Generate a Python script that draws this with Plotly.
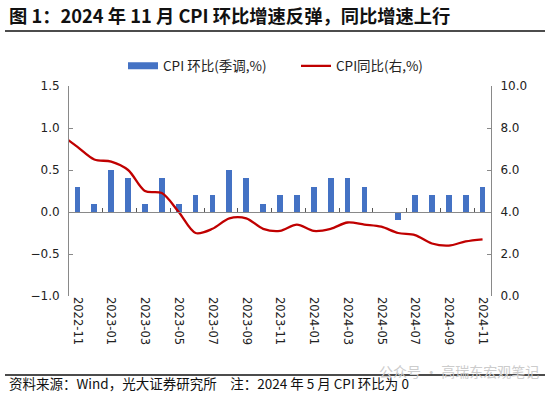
import plotly.graph_objects as go

# ---- data ----
months = ["2022-10", "2022-11", "2022-12", "2023-01", "2023-02", "2023-03", "2023-04",
          "2023-05", "2023-06", "2023-07", "2023-08", "2023-09", "2023-10", "2023-11",
          "2023-12", "2024-01", "2024-02", "2024-03", "2024-04", "2024-05", "2024-06",
          "2024-07", "2024-08", "2024-09", "2024-10", "2024-11"]
bar_months = months[1:]
cpi_mom_sa = [0.3, 0.1, 0.5, 0.4, 0.1, 0.4, 0.1, 0.2, 0.2, 0.5, 0.4, 0.1, 0.2,
              0.2, 0.3, 0.4, 0.4, 0.3, 0.0, -0.1, 0.2, 0.2, 0.2, 0.2, 0.3]
cpi_yoy = [7.7, 7.1, 6.5, 6.4, 6.0, 5.0, 4.9, 4.0, 3.0, 3.2, 3.7, 3.7, 3.2,
           3.1, 3.4, 3.1, 3.2, 3.5, 3.4, 3.3, 3.0, 2.9, 2.5, 2.4, 2.6, 2.7]
bar_name = "CPI 环比(季调,%)"
line_name = "CPI同比(右,%)"
title_text = "图 1：2024 年 11 月 CPI 环比增速反弹，同比增速上行"
source_text = "资料来源：Wind，光大证券研究所　注：2024 年 5 月 CPI 环比为 0"
watermark = "公众号 · 高瑞东宏观笔记"

CJK = "Noto Sans CJK SC"
NUM = "DejaVu Sans"
AX = "#898989"
BLUE = "#4472C4"
RED = "#C00000"

fig = go.Figure()
fig.add_trace(go.Bar(x=bar_months, y=cpi_mom_sa, name=bar_name, xaxis="x", yaxis="y",
                     marker=dict(color=BLUE, line=dict(width=0)), width=0.34,
                     showlegend=False, legendgroup="bar"))
# legend swatch for the bars (wide rectangle like the original)
fig.add_trace(go.Scatter(x=[None], y=[None], name=bar_name, mode="lines",
                         line=dict(color=BLUE, width=7), legendgroup="bar",
                         xaxis="x", yaxis="y"))
fig.add_trace(go.Scatter(x=months, y=cpi_yoy, name=line_name, xaxis="x2", yaxis="y2",
                         mode="lines", line=dict(color=RED, width=2.3,
                                                 shape="spline", smoothing=0.9)))

rng = [0.5, len(months) - 0.5]
common_x = dict(type="category", categoryorder="array", categoryarray=months,
                range=rng, showgrid=False, zeroline=False, automargin=False)

fig.update_layout(
    width=550, height=393,
    margin=dict(l=69, r=59, t=86, b=97, autoexpand=False),
    paper_bgcolor="white", plot_bgcolor="white",
    bargap=0,
    hovermode=False,
    showlegend=True,
    legend=dict(orientation="h", x=(123 - 69) / 422, xanchor="left",
                y=1.0 + 20/210, yanchor="middle",
                font=dict(family=CJK, size=13.5, color="#222"),
                itemwidth=30, entrywidth=128, entrywidthmode="pixels",
                tracegroupgap=0, bgcolor="rgba(0,0,0,0)"),
    xaxis=dict(**common_x, showline=False, ticks="", tickmode="linear", tick0=1, dtick=2,
               tickangle=90, tickfont=dict(family=NUM, size=11.5, color="#222")),
    xaxis2=dict(**common_x, overlaying="x", anchor="free", position=0.4, side="bottom",
                showline=True, linecolor=AX, linewidth=1,
                ticks="inside", ticklen=4, tickcolor="#555", tickson="boundaries",
                tickmode="linear", tick0=1, dtick=2, showticklabels=False),
    yaxis=dict(range=[-1, 1.5], dtick=0.5, tick0=-1, tickformat=".1f", showgrid=False,
               zeroline=False, showline=True, linecolor=AX, linewidth=1, automargin=False,
               ticks="inside", ticklen=4, tickcolor=AX, ticklabelstandoff=6,
               tickfont=dict(family=NUM, size=12, color="#222")),
    yaxis2=dict(range=[0, 10], dtick=2, tick0=0, tickformat=".1f", showgrid=False,
                zeroline=False, showline=True, linecolor=AX, linewidth=1, automargin=False,
                overlaying="y", side="right", anchor="x",
                ticks="inside", ticklen=4, tickcolor=AX, ticklabelstandoff=6,
                tickfont=dict(family=NUM, size=12, color="#222")),
)

# title and rules
fig.add_annotation(text=title_text, xref="paper", yref="paper", x=-62/422, y=1 + 71/210,
                   xanchor="left", yanchor="middle", showarrow=False,
                   font=dict(family=CJK, size=18.3, color="#111", weight="bold"))
fig.add_shape(type="line", xref="paper", yref="paper", x0=-64/422, x1=476/422,
              y0=1 + 55/210, y1=1 + 55/210, line=dict(color="#111", width=1.3))
fig.add_shape(type="line", xref="paper", yref="paper", x0=-64/422, x1=476/422,
              y0=-79/210, y1=-79/210, line=dict(color="#111", width=1.3))
fig.add_annotation(text=source_text, xref="paper", yref="paper", x=-62/422, y=-87/210,
                   xanchor="left", yanchor="middle", showarrow=False,
                   font=dict(family=CJK, size=13.5, color="#111"))
fig.add_annotation(text=watermark, xref="paper", yref="paper", x=472/422, y=-75/210,
                   xanchor="right", yanchor="middle", showarrow=False,
                   font=dict(family=CJK, size=14, color="#cccccc"))

fig.write_html("out.html", config={"displayModeBar": False, "staticPlot": True},
               post_script="document.body.style.margin='0px';")
